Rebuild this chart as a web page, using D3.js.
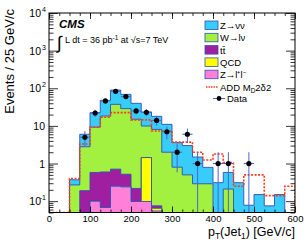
<!DOCTYPE html>
<html>
<head>
<meta charset="utf-8">
<script src="https://cdn.jsdelivr.net/npm/d3@7"></script>
<style>
body { margin: 0; background: #fff; }
svg { display: block; font-family: "Liberation Sans", Arial, Helvetica, sans-serif; }
</style>
</head>
<body>
<script>
const svgWidth = 307
const svgHeight = 245

const margin = { top: 13, right: 12, bottom: 32.5, left: 49 }
const chartWidth = svgWidth - margin.left - margin.right
const chartHeight = svgHeight - margin.top - margin.bottom

// 25 GeV bins, 0 - 600
const binEdges = d3.range(0, 601, 25)

// per-process events per bin (stack order bottom -> top)
const zll   = [0, 0, 0, 0, 0.1, 0.068, 0.25, 0.24, 0.098, 0.098, 0.055, 0, 0, 0, 0, 0, 0, 0, 0, 0, 0, 0, 0, 0]
const qcd   = [0, 0, 0, 0, 0, 0, 0, 0.005, 0, 1.34, 0.01, 0, 0, 0, 0, 0, 0, 0, 0, 0, 0, 0, 0, 0]
const ttbar = [0, 0, 0, 0.19, 0.48, 0.53, 0.46, 0.275, 0.12, 0, 0.01, 0, 0, 0, 0, 0, 0, 0, 0, 0, 0, 0, 0, 0]
const wlnu  = [0, 0, 0.27, 2.6, 8.7, 17.7, 36.7, 28.3, 14.8, 8.5, 8.0, 2.0, 0.8, 0.5, 0.29, 0.29, 0, 0.21, 0, 0, 0, 0, 0, 0]
const znn   = [0, 0, 0.1, 3.2, 13.2, 29.4, 52.2, 40, 24.8, 13.5, 9.9, 9, 2.8, 2.5, 1.2, 0.5, 0.31, 0.37, 0.31, 0.078, 0.15, 0.075, 0.15, 0]
// ADD signal (dashed) and observed data
const addSignal = [0, 0, 0.4, 3.3, 9.2, 17, 22.5, 22.5, 14.5, 14.5, 7.3, 7.3, 3.7, 3.7, 2.0, 1.24, 1.8, 1.06, 0.25, 0.5, 0.5, 0.14, 0.14, 0.25]
const observed  = [0, 0, 0, 5, 22, 46, 83, 60, 25, 23, 14, 7, 2, 6, 1, 0, 1, 1, 0, 1, 0, 0, 0, 0]

const xTicks = [0, 100, 200, 300, 400, 500, 600]
const yTicks = [0.1, 1, 10, 100, 1000, 10000]
const yTickLabels = [["10", "-1"], ["1", ""], ["10", ""], ["10", "2"], ["10", "3"], ["10", "4"]]

const processes = [
    { key: "znn",   label: "Z→νν",   color: "#38ccf8" },
    { key: "wlnu",  label: "W→lν",   color: "#a2f040" },
    { key: "ttbar", label: "tt̄",     color: "#a01ea0" },
    { key: "qcd",   label: "QCD",    color: "#ffff00" },
    { key: "zll",   label: "Z→l⁺l⁻", color: "#ff80d8" }
]
const outlineColor = "#2f4fb8"
const errColor = "#4a64d0"

const yMin = 0.05

const svg = d3.select("body").append("svg")
    .attr("width", svgWidth)
    .attr("height", svgHeight)

const chartG = svg.append("g")
    .attr("transform", `translate(${margin.left}, ${margin.top})`)

chartG.append("clipPath").attr("id", "clip")
    .append("rect").attr("width", chartWidth).attr("height", chartHeight)

const x = d3.scaleLinear().domain([0, 600]).range([0, chartWidth])
const y = d3.scaleLog().domain([yMin, 1e4]).range([chartHeight, 0])
const yv = v => y(Math.max(v, yMin))

const rows = binEdges.slice(0, -1).map((lo, i) => ({
    lo: lo, hi: binEdges[i + 1],
    zll: zll[i], qcd: qcd[i], ttbar: ttbar[i], wlnu: wlnu[i], znn: znn[i]
}))

const stack = d3.stack().keys(["zll", "qcd", "ttbar", "wlnu", "znn"])
const layers = stack(rows)

const stepPoints = vals => {
    const pts = [[0, 0]]
    vals.forEach((v, i) => {
        pts.push([binEdges[i], v])
        pts.push([binEdges[i + 1], v])
    })
    pts.push([600, 0])
    return pts
}

const area = d3.area()
    .x(p => x(p[0]))
    .y0(chartHeight)
    .y1(p => yv(p[1]))

const line = d3.line()
    .x(p => x(p[0]))
    .y(p => yv(p[1]))

const histG = chartG.append("g").attr("clip-path", "url(#clip)")

// draw cumulative histograms from the top of the stack down
layers.slice().reverse().forEach(layer => {
    const proc = processes.find(p => p.key === layer.key)
    const pts = stepPoints(layer.map(d => d[1]))
    histG.append("path")
        .attr("d", area(pts))
        .attr("fill", proc.color)
    histG.append("path")
        .attr("d", line(pts))
        .attr("fill", "none")
        .attr("stroke", outlineColor)
        .attr("stroke-width", 0.9)
})

// ADD signal
histG.append("path")
    .attr("d", line(stepPoints(addSignal)))
    .attr("fill", "none")
    .attr("stroke", "#ff3a1a")
    .attr("stroke-width", 1.6)
    .attr("stroke-dasharray", "2,1.5")

// data
const dataPts = rows.map((r, i) => ({ lo: r.lo, hi: r.hi, n: observed[i] })).filter(d => d.n > 0)

const dataG = histG.append("g")
dataG.selectAll("line.h").data(dataPts).enter().append("line")
    .attr("x1", d => x(d.lo)).attr("x2", d => x(d.hi))
    .attr("y1", d => y(d.n)).attr("y2", d => y(d.n))
    .attr("stroke", errColor).attr("stroke-width", 1)
dataG.selectAll("line.v").data(dataPts).enter().append("line")
    .attr("x1", d => x((d.lo + d.hi) / 2)).attr("x2", d => x((d.lo + d.hi) / 2))
    .attr("y1", d => y(d.n + Math.sqrt(d.n)))
    .attr("y2", d => yv(d.n - Math.sqrt(d.n)) + (d.n - Math.sqrt(d.n) <= 0 ? 2 : 0))
    .attr("stroke", errColor).attr("stroke-width", 1)
dataG.selectAll("circle").data(dataPts).enter().append("circle")
    .attr("cx", d => x((d.lo + d.hi) / 2))
    .attr("cy", d => y(d.n))
    .attr("r", 2.6)
    .attr("fill", "#000")

// axes
const minorY = []
for (let e = -2; e < 4; e++) {
    for (let m = 2; m <= 9; m++) {
        const v = m * Math.pow(10, e)
        if (v >= yMin && v < 1e4) minorY.push(v)
    }
}

const styleAxis = g => {
    g.select(".domain").remove()
    g.selectAll(".tick line").attr("stroke", "#000").attr("stroke-width", 0.8)
}

chartG.append("g").call(d3.axisLeft(y).tickValues(yTicks).tickSize(-9).tickFormat("")).call(styleAxis)
chartG.append("g").call(d3.axisLeft(y).tickValues(minorY).tickSize(-4.5).tickFormat("")).call(styleAxis)
chartG.append("g").attr("transform", `translate(${chartWidth}, 0)`)
    .call(d3.axisRight(y).tickValues(yTicks).tickSize(-9).tickFormat("")).call(styleAxis)
chartG.append("g").attr("transform", `translate(${chartWidth}, 0)`)
    .call(d3.axisRight(y).tickValues(minorY).tickSize(-4.5).tickFormat("")).call(styleAxis)

chartG.append("g").attr("transform", `translate(0, ${chartHeight})`)
    .call(d3.axisBottom(x).tickValues(xTicks).tickSize(-6).tickPadding(3))
    .call(styleAxis)
    .call(g => g.selectAll("text").attr("font-size", 9.5).attr("font-family", "Liberation Sans, Arial, sans-serif").attr("fill", "#000"))
chartG.append("g").attr("transform", `translate(0, ${chartHeight})`)
    .call(d3.axisBottom(x).tickValues(d3.range(25, 600, 25)).tickSize(-3).tickFormat(""))
    .call(styleAxis)
chartG.append("g")
    .call(d3.axisTop(x).tickValues(xTicks).tickSize(-6).tickFormat(""))
    .call(styleAxis)
chartG.append("g")
    .call(d3.axisTop(x).tickValues(d3.range(25, 600, 25)).tickSize(-3).tickFormat(""))
    .call(styleAxis)

// y tick labels with superscripts
const yLab = chartG.append("g").attr("font-size", 10.5).attr("text-anchor", "end")
yTicks.forEach((v, i) => {
    yLab.append("text")
        .attr("x", yTickLabels[i][1] ? -8 : -4)
        .attr("y", y(v) + 4)
        .text(yTickLabels[i][0])
    if (yTickLabels[i][1]) {
        yLab.append("text")
            .attr("x", -3)
            .attr("y", y(v) - 1)
            .attr("font-size", 7)
            .text(yTickLabels[i][1])
    }
})

// frame
chartG.append("rect")
    .attr("width", chartWidth).attr("height", chartHeight)
    .attr("fill", "none").attr("stroke", "#000").attr("stroke-width", 1)

// axis titles
svg.append("text")
    .attr("transform", `translate(14, 9) rotate(-90)`)
    .attr("text-anchor", "end")
    .attr("font-size", 13)
    .text("Events / 25 GeV/c")

const xTitle = svg.append("text")
    .attr("x", margin.left + chartWidth)
    .attr("y", 236)
    .attr("text-anchor", "end")
    .attr("font-size", 12.5)
xTitle.append("tspan").text("p")
xTitle.append("tspan").attr("font-size", 8.5).attr("dy", 3).text("T")
xTitle.append("tspan").attr("dy", -3).text("(Jet")
xTitle.append("tspan").attr("font-size", 8.5).attr("dy", 3).text("1")
xTitle.append("tspan").attr("dy", -3).text(") [GeV/c]")

// CMS label
svg.append("text")
    .attr("x", 59).attr("y", 28)
    .attr("font-size", 11.5).attr("font-weight", "bold").attr("font-style", "italic")
    .text("CMS")
svg.append("text")
    .attr("x", 57).attr("y", 49)
    .attr("font-size", 18)
    .text("∫")
const lumi = svg.append("text")
    .attr("x", 65).attr("y", 43)
    .attr("font-size", 9)
lumi.append("tspan").text("L dt = 36 pb")
lumi.append("tspan").attr("font-size", 6.5).attr("dy", -3.5).text("-1")
lumi.append("tspan").attr("dy", 3.5).text(" at √s=7 TeV")

// legend
const legend = svg.append("g").attr("font-size", 9.5)
processes.forEach((p, i) => {
    const ly = 21 + i * 12.3
    legend.append("rect")
        .attr("x", 205).attr("y", ly).attr("width", 13).attr("height", 8.5)
        .attr("fill", p.color).attr("stroke", outlineColor).attr("stroke-width", 0.8)
    legend.append("text").attr("x", 220).attr("y", ly + 8).text(p.label)
})
legend.append("line")
    .attr("x1", 206).attr("x2", 218).attr("y1", 87).attr("y2", 87)
    .attr("stroke", "#ff3a1a").attr("stroke-width", 1.4).attr("stroke-dasharray", "1.5,1")
const addT = legend.append("text").attr("x", 220).attr("y", 90.5)
addT.append("tspan").text("ADD M")
addT.append("tspan").attr("font-size", 6.5).attr("dy", 2).text("D")
addT.append("tspan").attr("dy", -2).text("2δ2")
legend.append("line")
    .attr("x1", 213).attr("x2", 225).attr("y1", 98.5).attr("y2", 98.5)
    .attr("stroke", errColor).attr("stroke-width", 1)
legend.append("circle").attr("cx", 219).attr("cy", 98.5).attr("r", 2.4).attr("fill", "#000")
legend.append("text").attr("x", 227).attr("y", 102).text("Data")
</script>
</body>
</html>
